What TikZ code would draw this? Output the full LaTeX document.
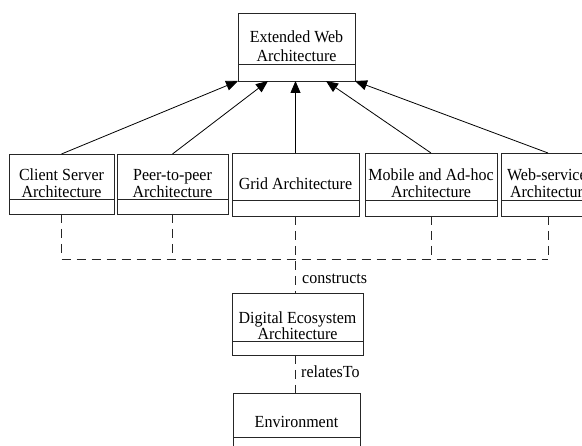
\documentclass[tikz,border=0pt]{standalone}
\usepackage{fontspec}
\setmainfont{Liberation Serif}
\usetikzlibrary{arrows.meta}
\newcommand\vs[1]{\scalebox{1}[1.06]{#1}}
\tikzset{
  cls/.style={draw=black!85, line width=0.8pt, inner sep=0pt, outer sep=0pt, anchor=north west},
  lbl/.style={anchor=base, inner sep=0pt, font=\fontsize{16}{16}\selectfont},
  arr/.style={draw=black, line width=0.8pt, -{Triangle[length=12pt,width=10pt]}},
  dsh/.style={draw=black!85, line width=0.8pt, dash pattern=on 9pt off 6pt},
  div/.style={draw=black!85, line width=0.8pt}
}
\begin{document}
\begin{tikzpicture}[x=1pt,y=-1pt]
\useasboundingbox (0,0) rectangle (582,446);
\fill[white] (0,0) rectangle (582,446);
\clip (0,0) rectangle (582,446);

% boxes
\node[cls, minimum width=117pt, minimum height=68pt] (ext) at (238,13) {};
\node[cls, minimum width=105pt, minimum height=60pt] (cs) at (9,154) {};
\node[cls, minimum width=111pt, minimum height=60pt] (pp) at (117,154) {};
\node[cls, minimum width=127pt, minimum height=63pt] (grid) at (232,153) {};
\node[cls, minimum width=132pt, minimum height=63pt] (mob) at (365,153) {};
\node[cls, minimum width=94pt, minimum height=63pt] (web) at (501,153) {};
\node[cls, minimum width=131pt, minimum height=62pt] (dig) at (232,293) {};
\node[cls, minimum width=127pt, minimum height=64pt] (env) at (233,393) {};

% compartment dividers
\draw[div] (ext.west |- 0,64) -- (ext.east |- 0,64);
\draw[div] (cs.west |- 0,199) -- (cs.east |- 0,199);
\draw[div] (pp.west |- 0,199) -- (pp.east |- 0,199);
\draw[div] (grid.west |- 0,200) -- (grid.east |- 0,200);
\draw[div] (mob.west |- 0,200) -- (mob.east |- 0,200);
\draw[div] (web.west |- 0,200) -- (web.east |- 0,200);
\draw[div] (dig.west |- 0,341) -- (dig.east |- 0,341);
\draw[div] (env.west |- 0,437) -- (env.east |- 0,437);

% labels
\node[lbl] (ext1) at (296.5,43) {\vs{Extended Web}};
\node[lbl] (ext2) at (296.5,62) {\vs{Architecture}};
\node[lbl] (cs1) at (61.5,181) {\vs{Client Server}};
\node[lbl] (cs2) at (61.5,198) {\vs{Architecture}};
\node[lbl] (pp1) at (172.5,181) {\vs{Peer-to-peer}};
\node[lbl] (pp2) at (172.5,198) {\vs{Architecture}};
\node[lbl] (grid1) at (295.5,190) {\vs{Grid Architecture}};
\node[lbl] (mob1) at (431,181) {\vs{Mobile and Ad-hoc}};
\node[lbl] (mob2) at (431,198) {\vs{Architecture}};
\node[lbl] (web1) at (550,181) {\vs{Web-services}};
\node[lbl] (web2) at (550,198) {\vs{Architecture}};
\node[lbl] (dig1) at (297.5,324) {\vs{Digital Ecosystem}};
\node[lbl] (dig2) at (297.5,340) {\vs{Architecture}};
\node[lbl] (env1) at (296.5,428) {\vs{Environment}};

% generalisation arrows
\coordinate (t2) at (268,81);
\coordinate (t4) at (326,81);
\draw[arr] (cs.north) -- (ext.south west);
\draw[arr] (pp.north) -- (t2);
\draw[arr] (grid.north) -- (grid.north |- ext.south);
\draw[arr] (mob.north) -- (t4);
\draw[arr] (web.north) -- (ext.south east);

% dashed dependency bus
\coordinate (busL) at (61.5,259);
\coordinate (busR) at (548,259);
\draw[dsh] (busL) -- (busR);
\draw[dsh] (cs.south) -- (busL);
\draw[dsh] (pp.south) -- (pp.south |- busL);
\draw[dsh] (mob.south) -- (mob.south |- busL);
\draw[dsh] (web.south) -- (busR);
\draw[dsh] (grid.south) -- (grid.south |- dig.north);
\draw[dsh] (dig.south -| grid.south) -- (env.north -| grid.south);

\node[lbl, anchor=base west] (cons) at (302,284) {\vs{constructs}};
\node[lbl, anchor=base west] (rel) at (301,378) {\vs{relatesTo}};
\end{tikzpicture}
\end{document}
